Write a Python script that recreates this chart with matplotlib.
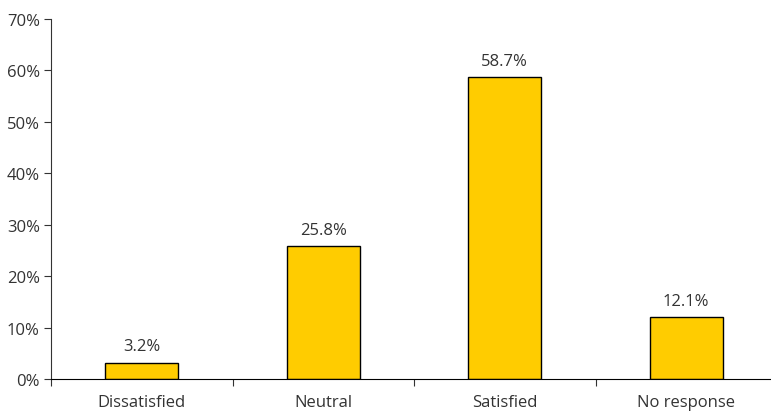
import matplotlib
matplotlib.use("Agg")
import matplotlib.pyplot as plt
import numpy as np

categories = ["Dissatisfied", "Neutral", "Satisfied", "No response"]
values = [3.2, 25.8, 58.7, 12.1]
yticks = [0, 10, 20, 30, 40, 50, 60, 70]

plt.rcParams['font.family'] = ['Open Sans', 'DejaVu Sans']

W, H = 771, 414
fig = plt.figure(figsize=(W/100, H/100), dpi=100)
ax = fig.add_axes([51/W, 34/H, (777-51)/W, 360/H])

x = np.arange(len(categories)) + 0.5
bars = ax.bar(x, values, width=0.4, color="#FFCC00", edgecolor="black", linewidth=1.0)
for xi, v in zip(x, values):
    ax.text(xi, v + 1.6, f"{v:.1f}%", ha="center", va="bottom", fontsize=12, color="#333333")

ax.set_xlim(0, len(categories))
ax.set_ylim(0, 70)
ax.set_yticks(yticks)
ax.set_yticklabels([f"{t}%" for t in yticks], fontsize=12, color="#333333")
ax.set_xticks(np.arange(0, len(categories) + 1))
ax.set_xticklabels([])
ax.set_xticks(x, minor=True)
ax.set_xticklabels(categories, minor=True, fontsize=12, color="#333333")
ax.tick_params(axis="x", which="minor", length=0, pad=11)
ax.tick_params(axis="x", which="major", length=5, direction="out", color="#333333")
ax.tick_params(axis="y", length=5, direction="out", color="#333333", pad=3)

for s in ["top", "right"]:
    ax.spines[s].set_visible(False)
ax.spines["left"].set_color("#333333")
ax.spines["bottom"].set_color("black")

fig.savefig("out.png", dpi=100)
